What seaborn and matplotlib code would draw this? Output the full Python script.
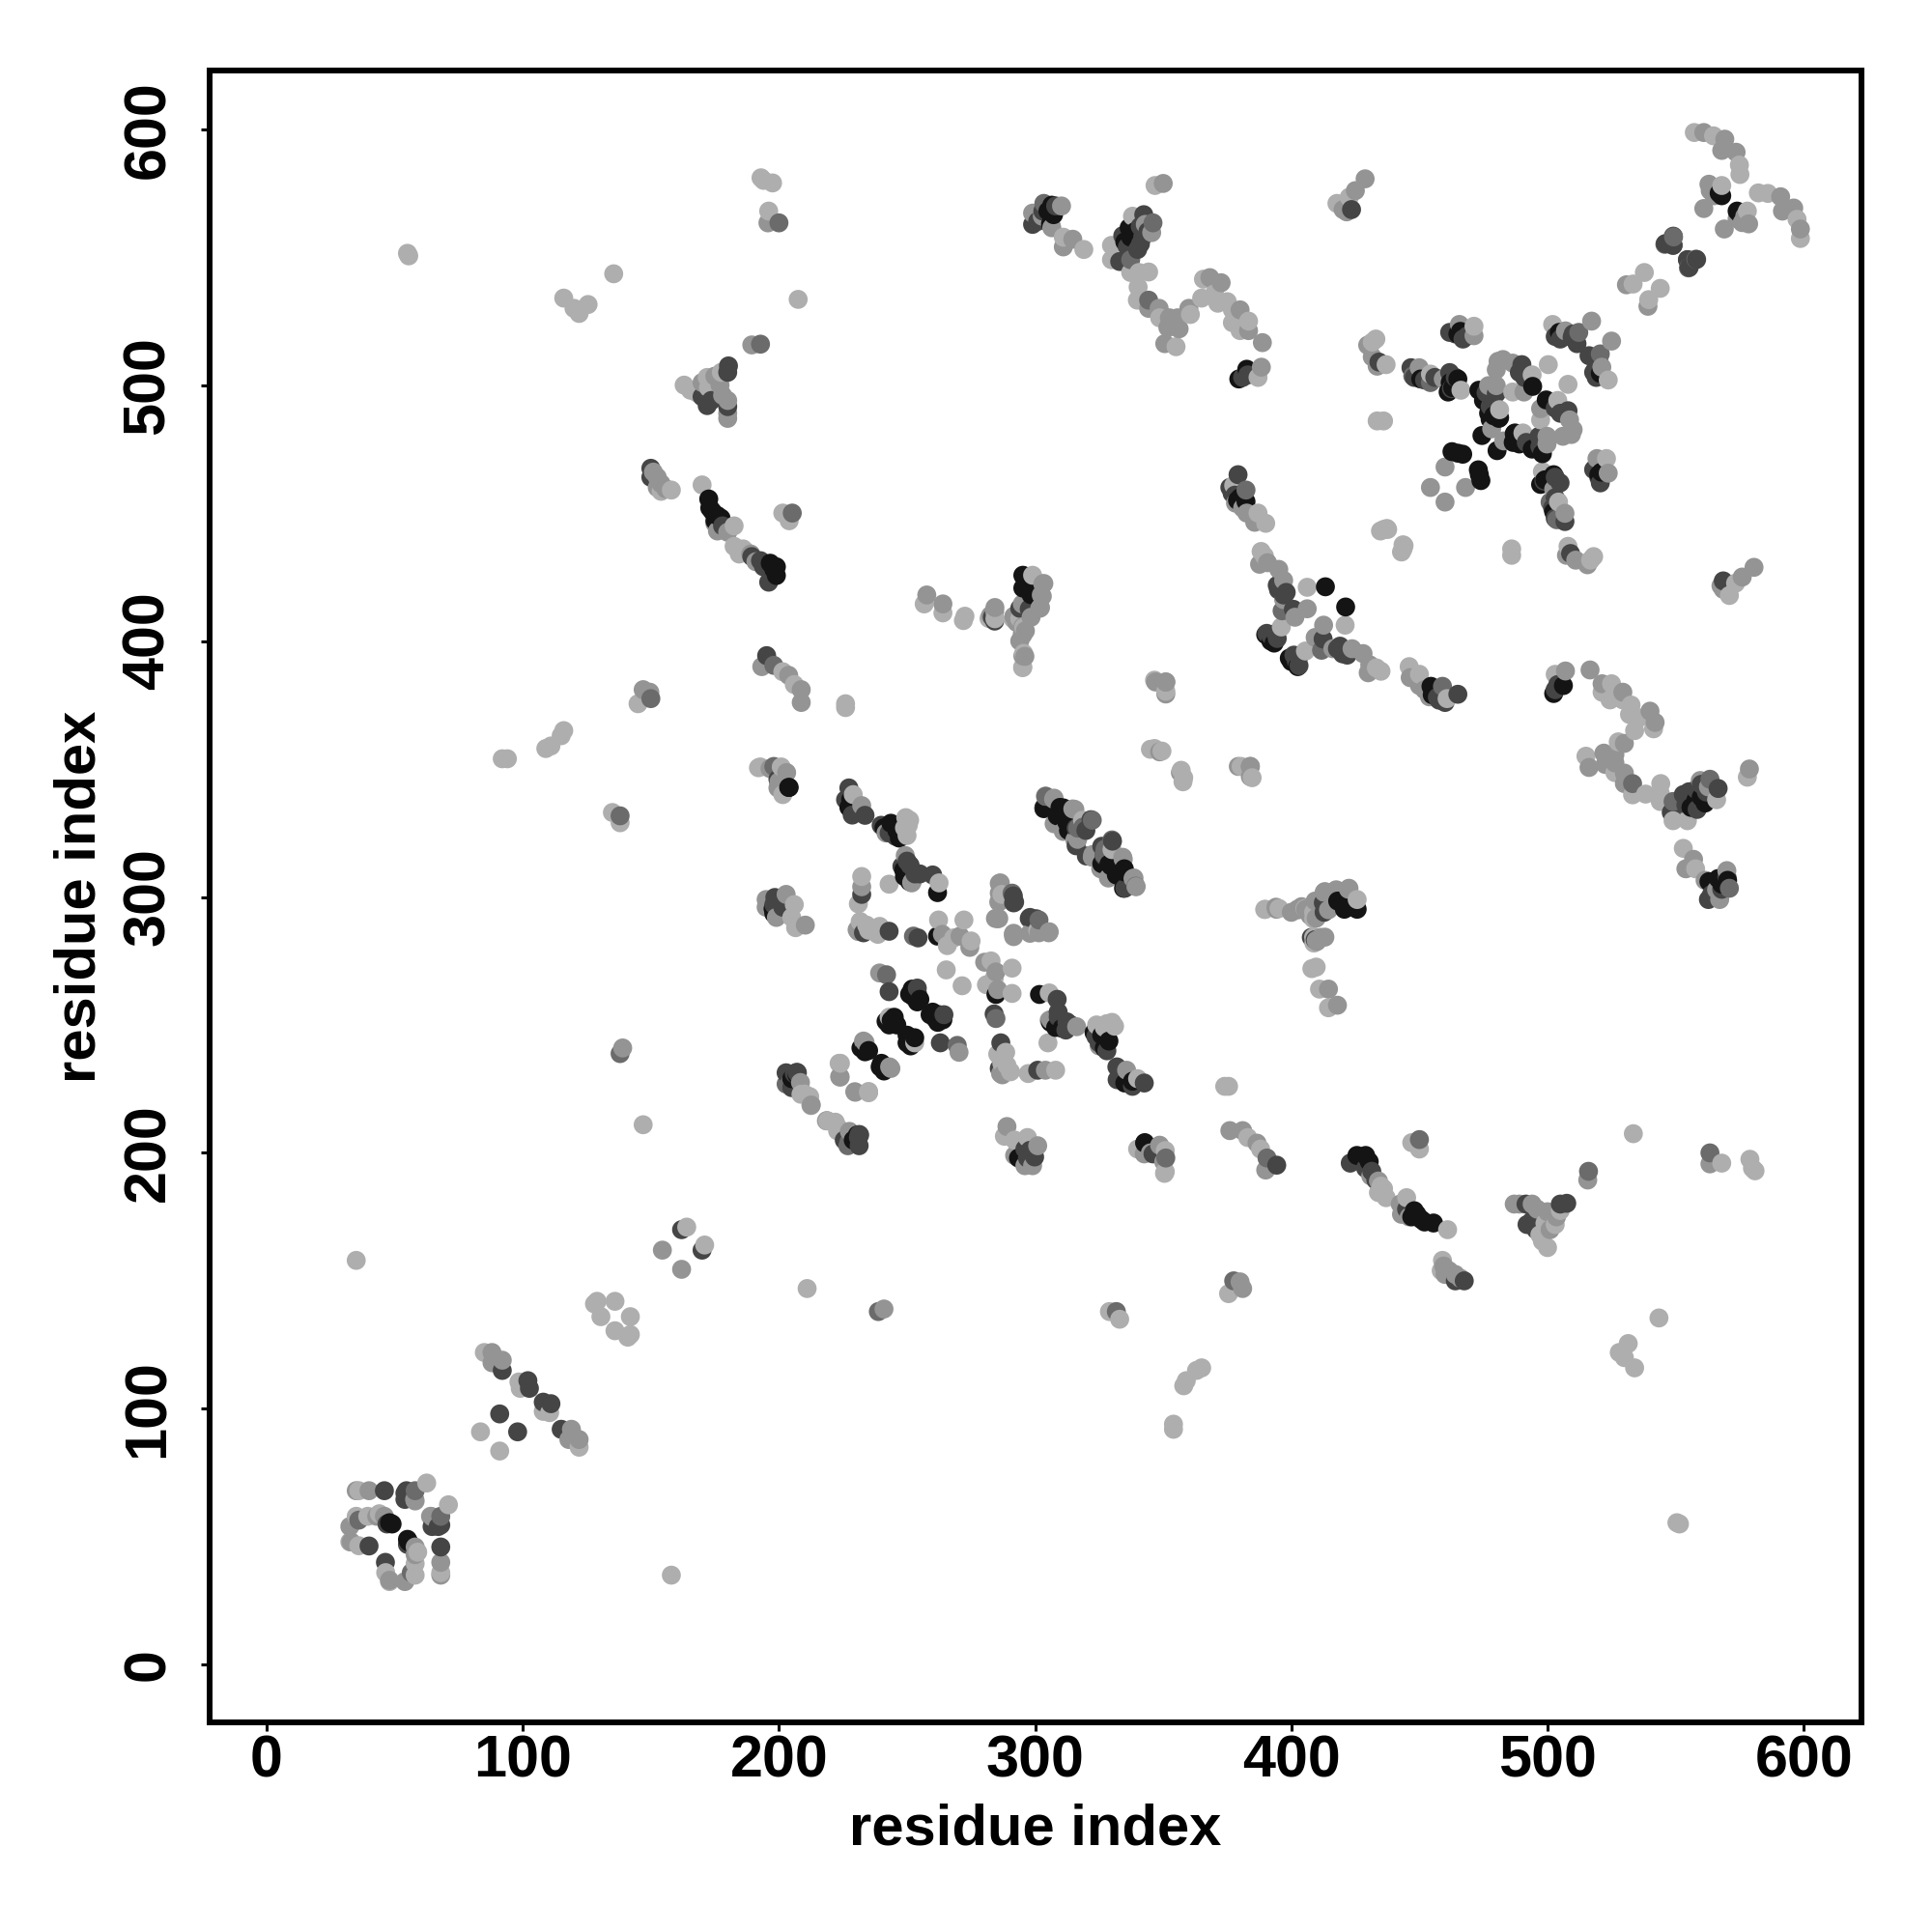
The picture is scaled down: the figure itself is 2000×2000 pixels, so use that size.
"""Contact map of a protein: residue pairs drawn as grey dots, darker for stronger contacts."""

import pandas as pd
import matplotlib
matplotlib.use("Agg")
import matplotlib.pyplot as plt
import seaborn as sns

TICKS=[0,100,200,300,400,500,600]

black_contacts=[(49,55),(48,55.5),(172.6,455.5),(174,450.7),(177.4,448),(175,447),(196.6,430.4),(199,429),(199,425.6),
    (203.8,342.8),(197.7,295.4),(207,230.6),(227.3,335),(243.7,328.8),(248.7,310.5),(261.9,301.7),(251,306),
    (261.9,284.7),(253.7,262),(251.8,262.7),(244.3,252),(241.8,251.4),(262,253.3),(251.8,243.8),(233.6,239.5),(239.9,233.5),
    (309.7,335),(312.8,328.8),(326,313),(329.8,312.4),(334.8,311),(331.7,308.6),(334.8,303.6),(295.2,425.7),(295.2,420.7),
    (298.4,418.1),(298,420.4),(295.5,425.4),(303.4,334.5),(312.2,329.5),
    (306.5,570.3),(307.2,566.6),(336.7,561.5),(337.3,557.8),(379.5,502.4),(382.6,506.2),
    (450.5,502.4),(465,502.4),(461.2,497.3),(465,520),(473.2,498),(494.2,499.5),(481.3,487.3),(477.6,486.6),(474.4,480.3),
    (487,481),(462.7,474),(466.9,473),(465,473.4),(504.6,520.6),(382.3,454.5),(413.3,421.2),(393.3,399.2),(568,574),
    (249,308),(241,327),(246,326),(247,323),(253,263),(254,262.5),(252.5,261),(255,260),(245,253),(243,250),(246,250),
    (259,254),(262,251),(264,252),(233,241),(240,235),(241,232),(463,499),(462,501),(466,521),(475,494),(477,489),(479,488),
    (380,456),(379,455),(392,400),(390,402.5),(305,568),(306,563),(338,558),(335,556),(339,560),(173,452),(176,449),(198,428),
    (567,575),(198,293.5),(205,229),(228,338),(204,342.8)]

dark_contacts=[(46,68),(54,67),(47,55),(40,46.4),(54,64.6),(54.6,68),(92,115),(102,111),(102.6,108),(91,98),(162,170),
    (150,467.5),(180.3,507.5),(170,495.5),(173.6,494),(180,491.6),(189.4,433),(192.8,431.4),(196,423),(195.2,394.3),
    (200,299),(201.5,296),(198.4,299.8),(207.2,231.3),(202.8,231.3),(231.5,207),(227.3,342.6),(233.6,331.9),(228.6,332),
    (239.9,328),(245.5,323.7),(251.2,312.4),(253.1,309),(260,308.6),(232.3,301),(243,286.6),(254.3,284),(243,263),
    (264.4,254),(291.5,300.4),(292,298),(297.7,291.6),(303.4,335),(316,326.9),(319.8,326),(330.2,321.8),(294.6,413.1),(297.7,412.5),
    (283.3,409.3),(298,412.8),(294,412.8),(284.2,407.8),(316,320),
    (379.2,465),(376.9,457.7),(299,562.8),(333,548.3),(334.2,558.4),(342.4,566.6),(341.1,555.2),
    (446.7,506.8),(461.8,520.6),(468.8,519.3),(461.8,504.9),(462.5,498.6),(477.6,491.7),(480,496.7),(490,508),
    (423.5,568.6),(434.2,509),(509.6,518.7),(511.5,516.2),(397,420),(394.5,421.8),(394.5,401),(390.4,403),(400.8,412.4),
    (546,555.3),(549.1,558.2),(549,554.6),(554.7,549),(199.6,346),(233,286),(250,314),(248,312),(255,309),(243,325),
    (503,519),(505,518),(510,520),(507,519),(448,503),(452,502),(456,503),(464,503),(464,520),(467,518),(476,497),
    (491,503),(489,505),(376,460),(378,457),(392,402),(394,403),(397,418),(398,419),(395,420),(303,568),(301,564),(308,570),
    (336,554),(340,553),(342,558),(344,560),(341,562),(381,503),(383,504),(178,445),(194,429),(150,464),(172,492),(180,505),
    (198,297),(201,298),(225.5,205),(206,231),(226,338)]

dim_contacts=[(36,56.5),(58,68),(138,331.7),(138,238.8),(150,377.5),(192.8,516),(200,563.4),(198,390.5),(205.2,450),
    (198,351),(202.8,226.9),(227.3,204.2),(242,269.6),(252.5,284.7),(301.5,291),(322.3,330),(327.3,318.7),(339.3,304.2),
    (316.6,326.9),(346,563.4),(344.3,533.2),(337.3,549),(303.4,571),(382.3,459),(396.4,411.8),(454.3,501),(447.4,503.6),
    (512.2,520.6),(557.9,549.2),(555,545.8)]

grey_contacts=[(40,68),(58,64),(32.5,54),(43,58),(46,58),(33,48),(35,68),(57.8,64.6),(88,122),(88,118),(92,119),(154.5,162),
    (139,241),(149.6,380),(147,381),(152.5,464),(154,461.5),(152.5,460),(155.8,459.5),(170,501),(175,503.5),(180,487),(180,494),
    (189.4,515.7),(195.7,563.4),(175,446),(180,442.5),(193.3,390),(203.8,386.6),(208.7,381),(208.7,376),(203,348.6),(200,345),
    (195,299),(202.8,301),(195,296),(210.3,289),(208.4,227.5),(212.6,218.7),(223.9,229.6),(229.8,223.7),(232.3,335.7),
    (241.8,325),(249.3,316.2),(251.8,305.5),(232.3,304),(230.5,287.2),(263.8,285.4),(270.7,284.7),(274.5,280.3),(239.3,270.3),
    (233.6,243.2),(243.7,233),(286.4,305.5),(285.8,298),(285.8,291.6),(284.5,291.6),(291.5,285.4),(301.5,286),(305.3,286),
    (304,339.4),(307.2,338.2),(314.7,334.4),(308.4,329.4),(311,325.6),(316.6,322.5),(322.3,315.5),(328.6,307.4),(334.2,315.5),
    (338.6,307.4),(351,384),(356.7,348.6),(379.3,351),(384,351),(384,347),(264,414.5),(257.7,418),(283,409.7),(292.8,407.3),
    (296.2,404),(294,400),(295.2,394.2),(295,414.5),(303.4,422.5),(302.8,417.5),(302.1,413.1),(298.4,409.3),(295.2,405.6),
    (295.2,402.4),(284.3,413.1),(282.6,410),(291.7,409.7),(295,402.8),(296,394),(303,422.3),(302.4,418),(301.8,412.8),(284.2,411.5),
    (299,567.2),(302.8,566),(310.3,570),(306.5,561.5),(314.7,557),
    (311,554),(343,562.8),(345.5,559.6),(344.3,530),(348.4,530),(352.4,526.3),(355.6,526.3),(351.8,522.5),(356.2,522),
    (350.6,516.2),(350,578.8),(360,530),(368.2,542),(372.6,540),(380,529.4),(383.3,521.3),(388.7,516.6),(388.3,507),
    (420.2,568.6),(421.6,567.7),(425,576),(428.8,580.6),(429.8,515.6),(431.6,511),(433.5,507.4),(449.9,506.8),(459.3,502.4),
    (465.6,523.7),(471.3,519.3),(477,499.8),(480,506),(480.7,509.3),(482.6,510),(486.4,508.6),(480,499.8),(490.8,497.3),
    (478.2,482.9),(454.3,460),(460,468),(507,521.2),(517.2,525),(378.2,453.9),(382.6,450),(385.7,446.4),(390.7,430.6),
    (387.6,430),(395.1,428),(397,423.7),(397,416.2),(401.4,409.3),(406.2,412.6),(530.8,539.2),(561,598.7),(569.2,596.1),
    (568,591.7),(573.6,591),(561,569),(563,578.5),(563.5,576),(196.5,350.2),(199.6,342.6),(231,286.5),(252,306),(381,452),
    (191,431),(189,434),(176,443),(151,466),(177,500),(178,496),(180,489),(565,574),(566,577),(199,292)]

light_contacts=[(36,68),(62.5,71),(32.5,48),(35,58),(39.5,58),(36,46.5),(44,59),(85,122),(98.5,110.5),(99,108),(83.5,91),
    (129,142),(128,141),(136,142),(130.5,136),(164,171),(35,158),(55,551.5),(55.5,550.5),(92,354),(94,354),(111,359),(115,363),
    (109,358),(116,365),(135.5,543.5),(116,534),(120,530),(122,528),(125.5,531.5),(135,333),(138,329),(147,211),(145,375.5),
    (158,459),(154,458.5),(163,500),(168,497),(172.5,499),(177.5,505),(165.5,498),(193,581),(194,580),(197.5,579),(196,568),
    (170,461),(182.5,445),(182.5,437),(187,435),(184.5,434),(207.5,533.5),(201.5,450),(204,447),(201.5,388),(206,383),
    (226,375.5),(226,374),(192,350.5),(201.5,340),(206,297),(205,292),(206.5,288),(212,222),(219,212.5),(223,210),(218.5,212.5),
    (222.9,208.6),(223.5,235),(235,224),(229,340),(249.5,331),(250.5,328),(250,324),(232.3,308),(231,297.3),(243,305),
    (262.5,305.5),(231.7,290.4),(234.2,289),(239.3,288.5),(238.6,285.4),(262.3,291),(272.2,291),(265.7,281),(275,282.8),
    (268.2,284),(265.3,271.5),(253,243),(287,301),(318.5,330),(346.6,384.7),(351,380.4),(346.6,358),(349.5,357),(357.7,345),
    (282,408.8),(272.6,409.7),(256.7,414.5),(264,411),(272,408),(295.2,389.8),(299,425.7),(294,408.7),(284.3,408.7),(291.4,408.7),
    (295.5,405.3),(295.5,395.2),(295.1,389.6),(311,557.8),(319,553),(329.8,554.6),(329.8,549),
    (338,566),(337.3,544),(340.5,544),(344.3,544.2),(340.2,538.3),(339.9,533.2),(348.6,526.3),(346.8,578),(355,515),(360.6,527.6),
    (365,534),(365.7,541.4),(370,535.7),(375,532.6),(371.3,532),(377,529.4),(377,524.4),(383.3,525),(380,521.3),(387,503),
    (417.8,571),(422.6,573.4),(431.6,516.8),(433,518),(437,508),(433.5,486),(436,486),(437.3,444),(434.8,443),(443.6,437.6),
    (443.6,436),(454.3,504.3),(466.2,498),(471.3,523),(486.4,497.3),(494,504),(481.3,490.4),(500.3,508),(502,523.7),
    (377.5,460.8),(387,450),(390,446),(388.2,435),(389.5,433.2),(406.2,421),(396.1,405.5),(557.3,598.7),(564.8,597.4),
    (574.9,586),(575.1,582.3),(537.8,544),(533.4,539.5),(568,578),(192.7,350.8),(200.9,350.8),(235,287),(238,286),(249,327),(251,330),
    (186,436),(172,503)]

# Grey level of each group.
grey_levels=[0.68,0.58,0.42,0.27,0.08]
contact_groups=[light_contacts,grey_contacts,dim_contacts,dark_contacts,black_contacts]

def build_contact_table():           # Puts every contact and its mirror into one DataFrame.
    rows=[]
    for level,group in zip(grey_levels,contact_groups):
        for i,j in group:
            rows.append((i,j,level))
            rows.append((j,i,level))
    df=pd.DataFrame(rows,columns=["res_a","res_b","level"])
    return df.sort_values(["res_a","res_b"])   # Later residues are drawn over earlier ones.

def plot_contact_map(df):
    sns.set_theme(style="white")
    plt.rcParams["font.family"]=["Liberation Sans","DejaVu Sans"]
    fig=plt.figure(figsize=(10,10),dpi=200)
    ax=fig.add_axes([0.1084,0.1084,0.8553,0.8552])
    sns.scatterplot(data=df,x="res_a",y="res_b",hue="level",palette="gray",hue_norm=(0,1),
                    s=50,linewidth=0,legend=False,ax=ax)
    ax.set_xlim(-22.3,622.7)
    ax.set_ylim(-22.6,623)
    ax.set_xticks(TICKS)
    ax.set_yticks(TICKS)
    ax.tick_params(axis="both",direction="out",length=3.2,width=1.1,color="black",labelsize=22,labelcolor="black",
                   bottom=True,left=True)
    ax.tick_params(axis="x",pad=1.2)
    ax.tick_params(axis="y",pad=9)
    for label in ax.get_xticklabels():
        label.set_fontweight("bold")
    for label in ax.get_yticklabels():
        label.set_fontweight("bold")
        label.set_rotation(90)
        label.set_va("center")
    for spine in ax.spines.values():
        spine.set_linewidth(2.16)
        spine.set_color("black")
    ax.set_xlabel("residue index",fontsize=21.5,fontweight="bold",color="black",labelpad=5)
    ax.set_ylabel("residue index",fontsize=21.5,fontweight="bold",color="black",labelpad=5.7)
    fig.savefig("out.png",dpi=200,facecolor="white")
    plt.close(fig)

def main():
    df=build_contact_table()
    plot_contact_map(df)

if __name__=="__main__":
    main()
